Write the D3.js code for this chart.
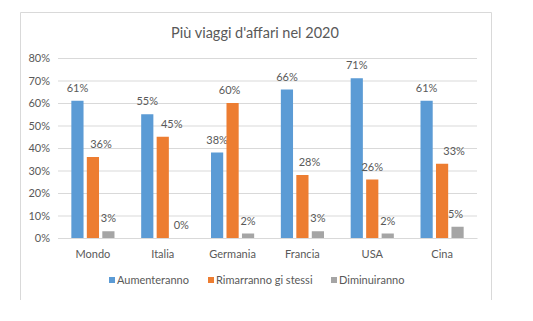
<!DOCTYPE html>
<html>
<head>
<meta charset="utf-8">
<script src="https://cdn.jsdelivr.net/npm/d3@7"></script>
<style>
  body { margin: 0; background: #fff; }
  text { font-family: Lato, "Open Sans", sans-serif; fill: #595959; }
</style>
</head>
<body>
<div id="chart"></div>
<script>
// chart data
const categories = ['Mondo', 'Italia', 'Germania', 'Francia', 'USA', 'Cina'];
const seriesNames = ['Aumenteranno', 'Rimarranno gi stessi', 'Diminuiranno'];
const aumenteranno = [61, 55, 38, 66, 71, 61];
const rimarranno = [36, 45, 60, 28, 26, 33];
const diminuiranno = [3, 0, 2, 3, 2, 5];
const yTicks = [0, 10, 20, 30, 40, 50, 60, 70, 80];
const colors = ['#5b9bd5', '#ed7d31', '#a5a5a5'];

// labels nudged sideways in the original (px)
const labelShift = [
    [0, 0, 0, 0, 0, 0],
    [8, 9, -3, 7, 0, 12],
    [0, 3, 0, 0, 0, -2]
];

const width = 533, height = 321;
const margin = { left: 58, right: 56, top: 58, bottom: 83 };

const svg = d3.select('#chart').append('svg')
    .attr('width', width)
    .attr('height', height);

// chart frame (bottom edge cut off in the screenshot)
svg.append('path')
    .attr('d', 'M20.5,300 V12.5 H491.5 V300')
    .attr('fill', 'none')
    .attr('stroke', '#d9d9d9');

svg.append('text')
    .attr('x', 255)
    .attr('y', 38)
    .attr('text-anchor', 'middle')
    .style('font-size', '14.5px')
    .text("Più viaggi d'affari nel 2020");

const x = d3.scaleBand()
    .domain(categories)
    .range([margin.left, width - margin.right]);

const y = d3.scaleLinear()
    .domain([0, 80])
    .range([height - margin.bottom, margin.top]);

// bar width from Excel gap 219%, overlap -27%
const barW = x.bandwidth() / (3 + 2 * 0.27 + 2.19);
const gap = barW * 0.27;

// gridlines
const yAxis = d3.axisLeft(y)
    .tickValues(yTicks)
    .tickSize(-(width - margin.left - margin.right))
    .tickFormat(d => d + '%')
    .tickPadding(8);

const gy = svg.append('g')
    .attr('transform', `translate(${margin.left},0)`)
    .call(yAxis);
gy.select('.domain').remove();
gy.selectAll('line').attr('stroke', '#d9d9d9');
gy.selectAll('text').style('font-size', '11px').attr('fill', '#595959');

// category axis
const xAxis = d3.axisBottom(x).tickSize(0).tickPadding(12);
const gx = svg.append('g')
    .attr('transform', `translate(0,${height - margin.bottom})`)
    .call(xAxis);
gx.select('.domain').attr('stroke', '#d9d9d9');
gx.selectAll('text').style('font-size', '11px').attr('fill', '#595959');

const allSeries = [aumenteranno, rimarranno, diminuiranno];
const groupW = 3 * barW + 2 * gap;

allSeries.forEach((vals, s) => {
    const bx = (cat) => x(cat) + (x.bandwidth() - groupW) / 2 + s * (barW + gap);

    svg.append('g').selectAll('rect')
        .data(categories)
        .enter()
        .append('rect')
        .attr('x', d => bx(d))
        .attr('y', (d, i) => y(vals[i]))
        .attr('width', barW)
        .attr('height', (d, i) => y(0) - y(vals[i]))
        .attr('fill', colors[s]);

    svg.append('g').selectAll('text')
        .data(categories)
        .enter()
        .append('text')
        .attr('x', (d, i) => bx(d) + barW / 2 + labelShift[s][i])
        .attr('y', (d, i) => y(vals[i]) - 9)
        .attr('text-anchor', 'middle')
        .style('font-size', '11px')
        .text((d, i) => vals[i] + '%');
});

// legend
const legendX = [109, 208, 331];
const legend = svg.append('g');
seriesNames.forEach((name, i) => {
    legend.append('rect')
        .attr('x', legendX[i])
        .attr('y', 277)
        .attr('width', 6)
        .attr('height', 6)
        .attr('fill', colors[i]);
    legend.append('text')
        .attr('x', legendX[i] + 8)
        .attr('y', 284)
        .style('font-size', '11px')
        .text(name);
});
</script>
</body>
</html>
